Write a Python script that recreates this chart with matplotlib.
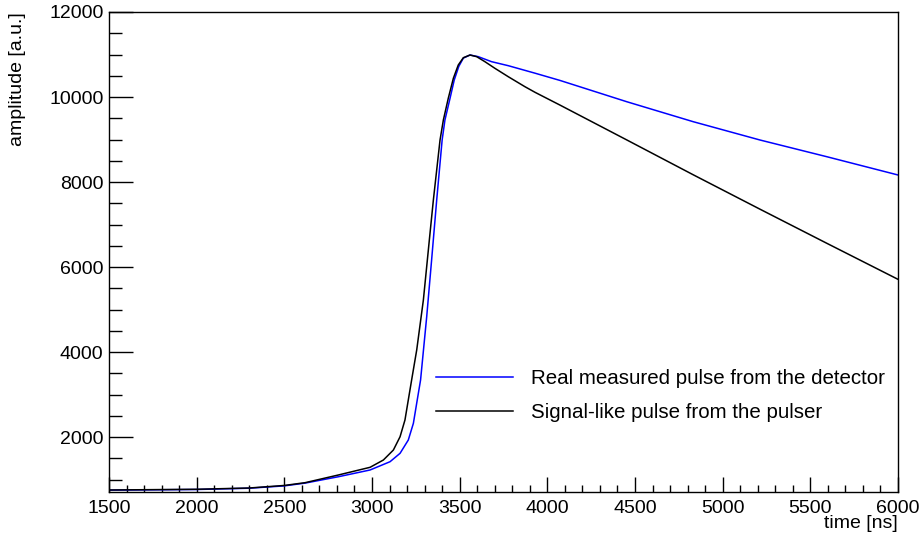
import matplotlib
matplotlib.use("Agg")
import matplotlib.pyplot as plt
from matplotlib.ticker import MultipleLocator

plt.rcParams['font.family'] = ['Liberation Sans', 'DejaVu Sans']

# detector pulse (blue)
t_det = [1500, 2000, 2300, 2500, 2618, 2808, 2989, 3103, 3160, 3207, 3236, 3258,
         3277, 3312, 3340, 3369, 3400, 3416, 3445, 3469, 3495, 3521, 3559, 3606,
         3682, 3777, 3930, 4072, 4453, 4832, 5213, 5593, 6000]
a_det = [750, 765, 795, 850, 915, 1065, 1224, 1419, 1616, 1929, 2322, 2871,
         3341, 4830, 6165, 7576, 8988, 9459, 9969, 10400, 10720, 10915, 10988, 10949,
         10831, 10737, 10560, 10390, 9889, 9419, 8988, 8596, 8165]

# pulser pulse (black)
t_pul = [1500, 2000, 2300, 2500, 2618, 2808, 2989, 3065, 3122, 3160, 3188, 3207,
         3226, 3255, 3293, 3331, 3350, 3388, 3407, 3435, 3464, 3492, 3521, 3559,
         3597, 3644, 3701, 3777, 3872, 3930, 4072, 4453, 4832, 5213, 5593, 6000]
a_pul = [753, 770, 800, 860, 925, 1106, 1287, 1459, 1694, 2006, 2400, 2871,
         3341, 4047, 5224, 6800, 7576, 8988, 9459, 9969, 10440, 10753, 10925, 10988,
         10949, 10831, 10675, 10478, 10243, 10110, 9810, 8990, 8170, 7360, 6560, 5710]

labels = ["Real measured pulse from the detector", "Signal-like pulse from the pulser"]

fig = plt.figure(figsize=(9.21, 5.39), dpi=100)
ax = fig.add_axes([109/921, 1-492/539, 789/921, 480/539])

ax.plot(t_det, a_det, color='#0000ff', lw=1.1, label=labels[0])
ax.plot(t_pul, a_pul, color='black', lw=1.1, label=labels[1])

ax.set_xlim(1500, 6000)
ax.set_ylim(706, 12000)
ax.xaxis.set_major_locator(MultipleLocator(500))
ax.xaxis.set_minor_locator(MultipleLocator(100))
ax.yaxis.set_major_locator(MultipleLocator(2000))
ax.yaxis.set_minor_locator(MultipleLocator(500))

ax.tick_params(axis='both', which='both', direction='in', top=False, right=False,
               labelsize=14, width=1)
ax.tick_params(axis='x', which='major', length=10.5, pad=6)
ax.tick_params(axis='x', which='minor', length=5.2)
ax.tick_params(axis='y', which='major', length=17.5, pad=4)
ax.tick_params(axis='y', which='minor', length=9)
for s in ax.spines.values():
    s.set_linewidth(1)

ax.legend(loc='upper left', bbox_to_anchor=(327/789, 123/480), frameon=False,
          fontsize=14.8, handlelength=3.75, handletextpad=0.85, labelspacing=0.75,
          borderpad=0, borderaxespad=0)

fig.text(898/921, 1-524/539, "time [ns]", ha='right', va='center', fontsize=14)
fig.text(18/921, 1-12/539, "amplitude [a.u.]", ha='center', va='top',
         rotation=90, fontsize=14)

fig.savefig("out.png", dpi=100)
